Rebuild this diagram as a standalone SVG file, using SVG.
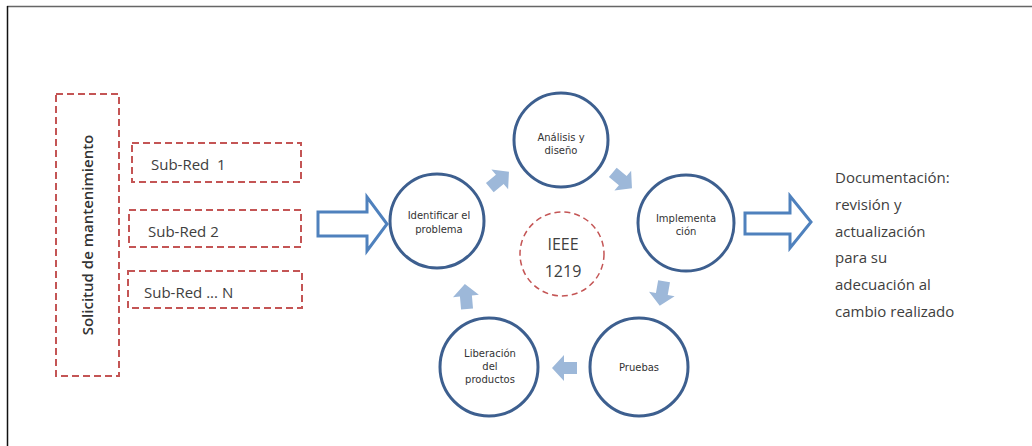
<svg xmlns="http://www.w3.org/2000/svg" width="1032" height="446" viewBox="0 0 1032 446">
<style>
.dash{fill:none;stroke:#c45555;stroke-width:2;stroke-dasharray:7 4}
.node{fill:#fff;stroke:#3d5f8f;stroke-width:3}
.lbl{font-family:"DejaVu Sans",sans-serif;font-size:10px;fill:#333;text-anchor:middle}
.sub{font-family:"Open Sans",sans-serif;font-size:15px;fill:#404040}
.doc{font-family:"Open Sans",sans-serif;font-size:15px;fill:#404040}
.big{fill:#fff;stroke:#4f81bd;stroke-width:3;stroke-linejoin:miter}
.sm{fill:#9db8d9}
</style>
<defs>
<path id="sa" d="M-12,-6 L1,-6 L1,-13 L13,0 L1,13 L1,6 L-12,6 Z"/>
</defs>
<rect width="1032" height="446" fill="#fff"/>
<line x1="7" y1="6.5" x2="1032" y2="6.5" stroke="#666" stroke-width="1.5"/>
<line x1="7.5" y1="6" x2="7.5" y2="446" stroke="#111" stroke-width="1.5"/>

<g id="solicitud">
<rect class="dash" x="56" y="94" width="63" height="282"/>
<text transform="translate(93,235) rotate(-90)" font-family="'Open Sans',sans-serif" font-size="15" font-weight="600" fill="#333" text-anchor="middle">Solicitud de mantenimiento</text>
</g>
<g id="subred1">
<rect class="dash" x="132" y="143" width="169" height="39"/>
<text class="sub" x="151" y="170" xml:space="preserve">Sub-Red  1</text>
</g>
<g id="subred2">
<rect class="dash" x="129" y="210" width="172" height="37"/>
<text class="sub" x="148" y="237">Sub-Red 2</text>
</g>
<g id="subredN">
<rect class="dash" x="128" y="271" width="174" height="37"/>
<text class="sub" x="144" y="298">Sub-Red ... N</text>
</g>

<g id="connectors">
<path class="big" d="M318,212 L367,212 L367,197 L387,224 L367,251 L367,236 L318,236 Z"/>
<path class="big" d="M745,213 L790,213 L790,196 L811,222 L790,248 L790,234 L745,234 Z"/>
<use href="#sa" class="sm" transform="translate(499,180) rotate(-40)"/>
<use href="#sa" class="sm" transform="translate(622,180) rotate(40)"/>
<use href="#sa" class="sm" transform="translate(662,293) rotate(100)"/>
<use href="#sa" class="sm" transform="translate(565,368) rotate(180)"/>
<use href="#sa" class="sm" transform="translate(466,297) rotate(-95)"/>
</g>

<g id="identificar">
<circle class="node" cx="437" cy="221" r="47"/>
<text class="lbl" x="439" y="219">Identificar el</text>
<text class="lbl" x="439" y="233">problema</text>
</g>
<g id="analisis">
<circle class="node" cx="561" cy="140" r="47"/>
<text class="lbl" x="561" y="141">Análisis y</text>
<text class="lbl" x="561" y="154">diseño</text>
</g>
<g id="implementacion">
<circle class="node" cx="686" cy="223" r="48"/>
<text class="lbl" x="686" y="222">Implementa</text>
<text class="lbl" x="686" y="235">ción</text>
</g>
<g id="pruebas">
<circle class="node" cx="639" cy="367" r="49"/>
<text class="lbl" x="639" y="371">Pruebas</text>
</g>
<g id="liberacion">
<circle class="node" cx="489" cy="367" r="49"/>
<text class="lbl" x="490" y="357">Liberación</text>
<text class="lbl" x="490" y="370">del</text>
<text class="lbl" x="490" y="383">productos</text>
</g>
<g id="ieee">
<circle cx="562" cy="254" r="42" fill="none" stroke="#c45555" stroke-width="1.5" stroke-dasharray="6 4"/>
<text x="563" y="250" font-family="'Open Sans',sans-serif" font-size="16" fill="#404040" text-anchor="middle">IEEE</text>
<text x="563" y="277" font-family="'Open Sans',sans-serif" font-size="16" fill="#404040" text-anchor="middle">1219</text>
</g>
<g id="documentacion">
<text class="doc" x="835" y="183">Documentación:</text>
<text class="doc" x="835" y="210">revisión y</text>
<text class="doc" x="835" y="237">actualización</text>
<text class="doc" x="835" y="263">para su</text>
<text class="doc" x="835" y="290">adecuación al</text>
<text class="doc" x="835" y="317">cambio realizado</text>
</g>
</svg>
